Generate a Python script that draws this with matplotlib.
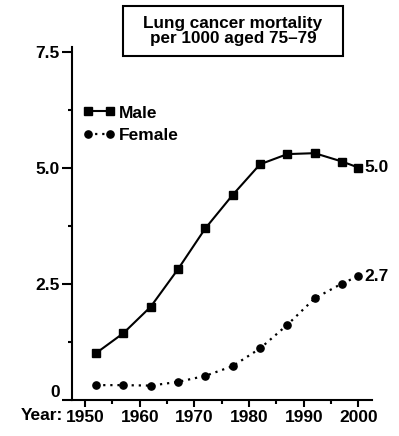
import matplotlib
matplotlib.use("Agg")
import matplotlib.pyplot as plt
from matplotlib.patches import Rectangle
import numpy as np

plt.rcParams['font.family'] = ['Liberation Sans', 'DejaVu Sans']
plt.rcParams['font.weight'] = 'bold'

# data
years = [1952, 1957, 1962, 1967, 1972, 1977, 1982, 1987, 1992, 1997, 2000]
male = [1.01, 1.44, 2.01, 2.82, 3.70, 4.42, 5.08, 5.30, 5.32, 5.14, 5.01]
female = [0.32, 0.32, 0.31, 0.39, 0.52, 0.73, 1.11, 1.62, 2.19, 2.51, 2.67]
end_labels = ["5.0", "2.7"]
yticks = [0, 2.5, 5.0, 7.5]
ytick_labels = ["0", "2.5", "5.0", "7.5"]
xticks = [1950, 1960, 1970, 1980, 1990, 2000]

fs = 12.5

fig = plt.figure(figsize=(3.99, 4.36), dpi=100)
ax = fig.add_axes([0.1805, 0.0826, 0.7519, 0.8087])

ax.plot(years, male, color='black', lw=1.5, marker='s', ms=6, label='Male')
ax.plot(years, female, color='black', lw=1.6, ls=(0, (1, 2.2)), marker='o', ms=5.2,
        label='Female')

ax.set_xlim(1947.6, 2002.5)
ax.set_ylim(0, 7.6)

ax.set_xticks(xticks)
ax.set_xticks(np.arange(1955, 2000, 10), minor=True)
ax.set_yticks(yticks)
ax.set_yticklabels(ytick_labels)
ax.set_yticks([1.25, 3.75, 6.25], minor=True)
ax.get_yticklabels()[0].set_va('bottom')

for s in ['top', 'right']:
    ax.spines[s].set_visible(False)
for s in ['left', 'bottom']:
    ax.spines[s].set_linewidth(1.5)

ax.tick_params(axis='both', which='both', width=1.5, labelsize=fs, direction='out')
ax.tick_params(axis='y', which='major', length=7, pad=2)
ax.tick_params(axis='y', which='minor', length=3)
ax.tick_params(axis='x', which='major', length=5, pad=2)
ax.tick_params(axis='x', which='minor', length=3)

# "Year:" prefix before the first x tick label
ax.annotate("Year:", xy=(1950, 0), xycoords='data', xytext=(-16, -6),
            textcoords='offset points', ha='right', va='top', fontsize=fs,
            fontweight='bold')

# end-of-line labels
ax.annotate(end_labels[0], xy=(years[-1], male[-1]), xytext=(4.5, 0),
            textcoords='offset points', ha='left', va='center', fontsize=fs,
            fontweight='bold')
ax.annotate(end_labels[1], xy=(years[-1], female[-1]), xytext=(4.5, 0),
            textcoords='offset points', ha='left', va='center', fontsize=fs,
            fontweight='bold')

leg = ax.legend(loc='upper left', bbox_to_anchor=(-0.005, 0.87), frameon=False,
                numpoints=2, handlelength=1.9, handletextpad=0.2,
                labelspacing=0.4, borderaxespad=0.3, prop={'size': fs, 'weight': 'bold'})

# title box
fig.patches.append(Rectangle((0.3083, 0.8716), 0.5513, 0.1146, transform=fig.transFigure,
                             fc='white', ec='black', lw=1.5))
fig.text(0.584, 0.9289, "Lung cancer mortality\nper 1000 aged 75\u201379",
         ha='center', va='center', fontsize=12.3, fontweight='bold',
         linespacing=1.05)

fig.savefig("out.png", dpi=100)
